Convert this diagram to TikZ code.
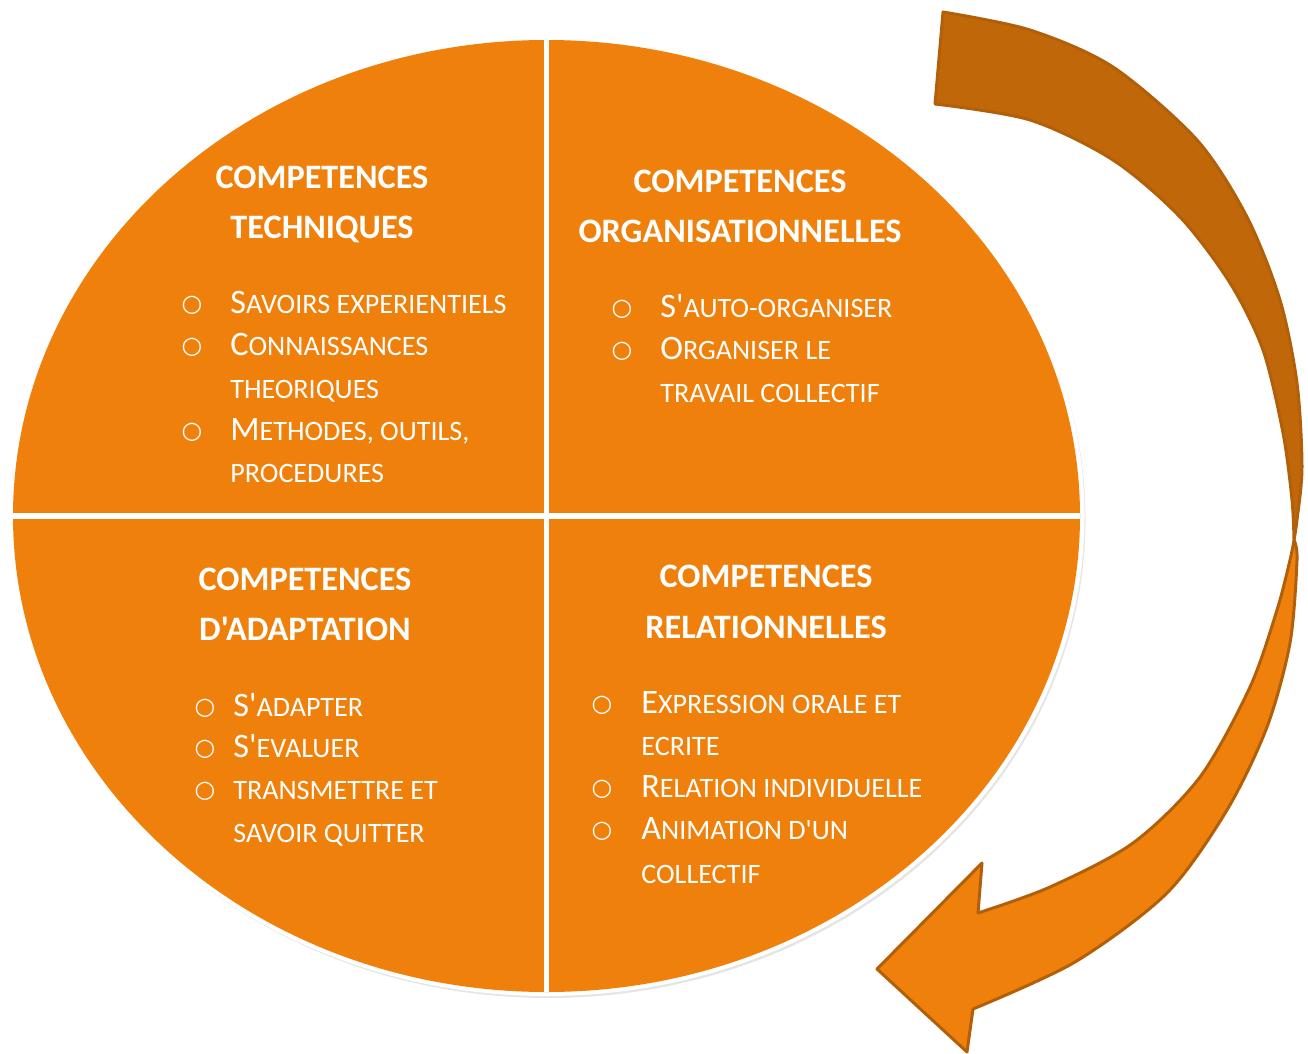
\documentclass[tikz,border=0pt]{standalone}
\usepackage{fontspec}
\setmainfont{Carlito}[Ligatures=TeXOff]
\newfontfamily\pucefont{DejaVu Sans}

\definecolor{orangeC}{RGB}{239,128,11}
\definecolor{brunF}{RGB}{192,103,10}
\definecolor{brunT}{RGB}{178,95,9}

% petites capitales faites a la main
\newcommand\pc[1]{{\fontsize{16}{16}\selectfont #1}}

\tikzset{
  titre/.style={text=white, font=\fontsize{19.5}{24}\selectfont\bfseries, anchor=base, inner sep=0pt},
  item/.style={text=white, font=\fontsize{19.5}{24}\selectfont, anchor=base west, inner sep=0pt},
  puce/.style={text=white, font=\pucefont\fontsize{13.5}{14}\selectfont, anchor=base, inner sep=0pt, yshift=1.1pt},
  fleche/.style={draw=brunT, line width=1.7pt, line join=round},
}

\begin{document}
\begin{tikzpicture}[x=0.02cm, y=-0.02cm]
\useasboundingbox (0,0) rectangle (1308,1054);

% disque
\fill [black!10] (548.5,519) ellipse [x radius=537, y radius=479];
\fill [white] (546.5,516) ellipse [x radius=538, y radius=480];
\fill [orangeC] (546.5,516) ellipse [x radius=533.5, y radius=476];
\draw [white, line width=3.4pt] (546.5,40) -- (546.5,992);
\draw [white, line width=3.4pt] (13,516) -- (1080,516);

% fleche
\filldraw [fleche, fill=brunF] (943,12) -- (935,104)
  -- plot [smooth] coordinates {(935,104) (1030,120) (1113,160) (1180,217) (1230,283) (1263,350) (1283,433) (1292,500) (1294,540)}
  -- plot [smooth] coordinates {(1294,540) (1297,520) (1302,467) (1297,383) (1280,300) (1247,217) (1197,140) (1113,67) (1030,30) (943,12)}
  -- cycle;
\filldraw [fleche, fill=orangeC]
  plot [smooth] coordinates {(1294,540) (1290,560) (1277,610) (1250,687) (1200,777) (1133,843) (1050,887) (978,913)}
  -- (982,863) -- (877,969) -- (967,1052) -- (973,1009)
  -- plot [smooth] coordinates {(973,1009) (1075,962) (1167,893) (1227,810) (1267,727) (1290,643) (1297,560) (1294,540)}
  -- cycle;

% techniques
\node [titre] (tech1) at (322,189) {COMPETENCES};
\node [titre] (tech2) at (322,238) {TECHNIQUES};
\node [puce] (tb1) at (192,313) {○};
\node [item] (ti1) at (230,313) {S\pc{AVOIRS EXPERIENTIELS}};
\node [puce] (tb2) at (192,355) {○};
\node [item] (ti2) at (230,355) {C\pc{ONNAISSANCES}};
\node [item] (ti2b) at (230,398) {\pc{THEORIQUES}};
\node [puce] (tb3) at (192,440) {○};
\node [item] (ti3) at (230,440) {M\pc{ETHODES, OUTILS,}};
\node [item] (ti3b) at (230,482) {\pc{PROCEDURES}};

% organisationnelles
\node [titre] (orga1) at (740,193) {COMPETENCES};
\node [titre] (orga2) at (740,242) {ORGANISATIONNELLES};
\node [puce] (ob1) at (622,317) {○};
\node [item] (oi1) at (660,317) {S'\pc{AUTO-ORGANISER}};
\node [puce] (ob2) at (622,359) {○};
\node [item] (oi2) at (660,359) {O\pc{RGANISER LE}};
\node [item] (oi2b) at (660,402) {\pc{TRAVAIL COLLECTIF}};

% adaptation
\node [titre] (adap1) at (305,590) {COMPETENCES};
\node [titre] (adap2) at (305,640) {D'ADAPTATION};
\node [puce] (ab1) at (205,716) {○};
\node [item] (ai1) at (233,716) {S'\pc{ADAPTER}};
\node [puce] (ab2) at (205,757) {○};
\node [item] (ai2) at (233,757) {S'\pc{EVALUER}};
\node [puce] (ab3) at (205,799) {○};
\node [item] (ai3) at (233,799) {\pc{TRANSMETTRE ET}};
\node [item] (ai3b) at (233,842) {\pc{SAVOIR QUITTER}};

% relationnelles
\node [titre] (rela1) at (766,587) {COMPETENCES};
\node [titre] (rela2) at (766,638) {RELATIONNELLES};
\node [puce] (rb1) at (602,713) {○};
\node [item] (ri1) at (641,713) {E\pc{XPRESSION ORALE ET}};
\node [item] (ri1b) at (641,755) {\pc{ECRITE}};
\node [puce] (rb2) at (602,797) {○};
\node [item] (ri2) at (641,797) {R\pc{ELATION INDIVIDUELLE}};
\node [puce] (rb3) at (602,839) {○};
\node [item] (ri3) at (641,839) {A\pc{NIMATION D'UN}};
\node [item] (ri3b) at (641,883) {\pc{COLLECTIF}};
\end{tikzpicture}
\end{document}
